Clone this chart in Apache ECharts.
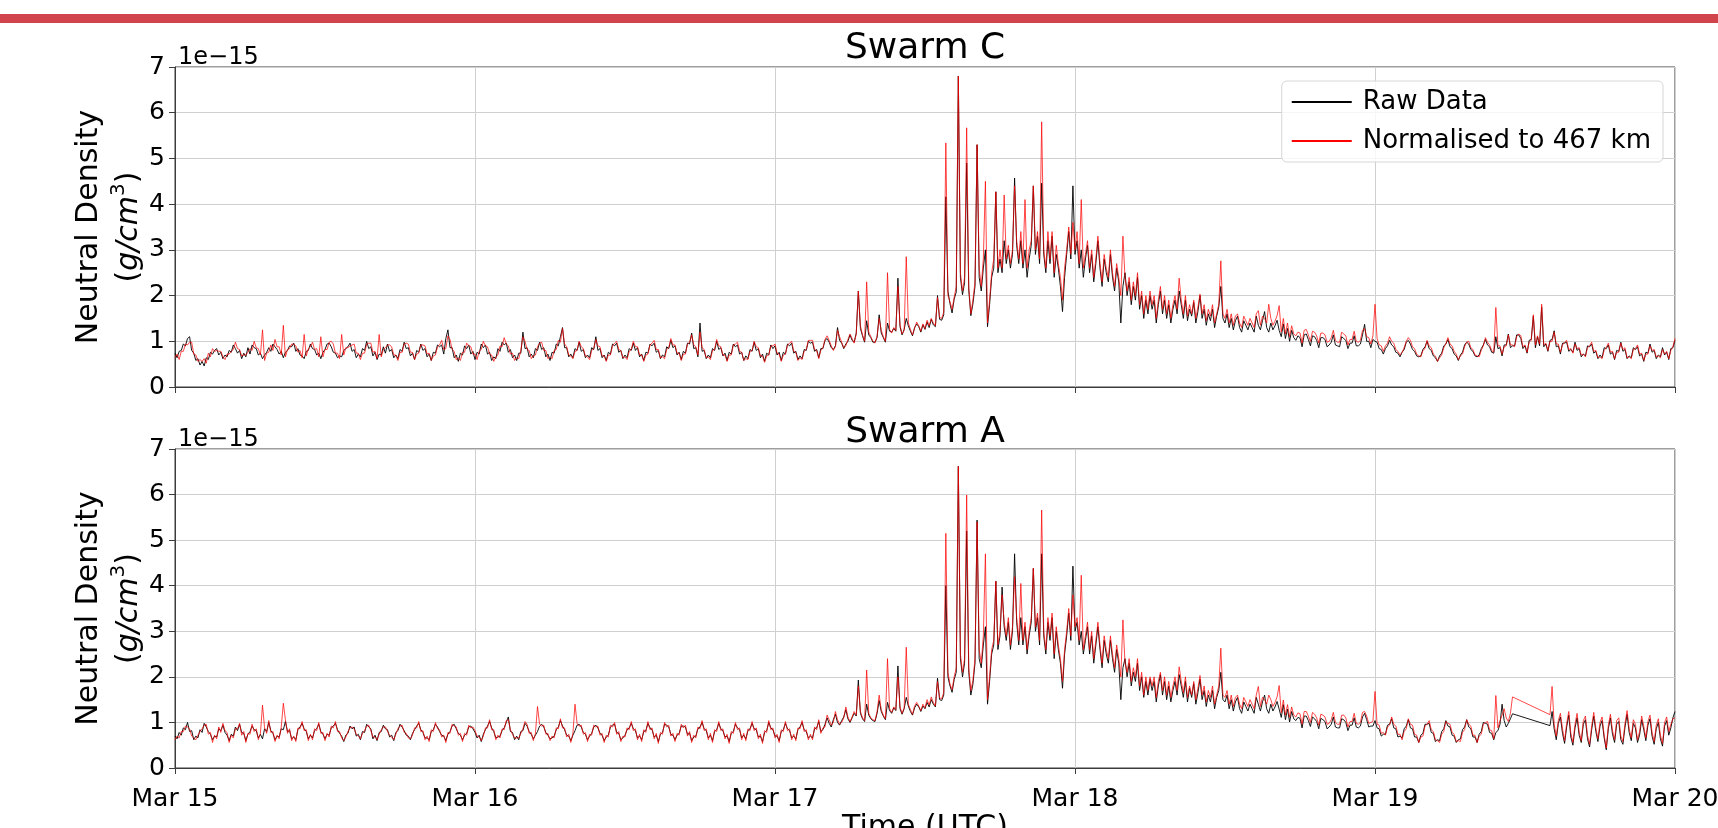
<!DOCTYPE html>
<html><head><meta charset="utf-8">
<script src="https://cdn.jsdelivr.net/npm/echarts@6/dist/echarts.min.js"></script>
<style>html,body{margin:0;padding:0;background:#fff}#chart{width:1718px;height:828px}</style>
</head><body><div id="chart"></div>
<script>
// x tick labels (one per day, 00:00 UTC)
const dayLabels = ['Mar 15','Mar 16','Mar 17','Mar 18','Mar 19','Mar 20'];
// samples every 10 minutes from Mar 15 00:00 UTC; values in units of 1e-15 g/cm^3 (one row = 2 hours)
const stepHours = 1/6;

const swarmC_raw = [
.74,.64,.78,.80,.94,.90,1.06,1.10,.80,.74,.58,.62,
.48,.56,.46,.64,.60,.76,.72,.80,.84,.70,.76,.62,
.70,.66,.80,.76,.92,.84,.74,.80,.62,.74,.66,.86,
.72,.92,.86,.84,.70,.74,.62,.70,.76,.86,.78,.94,
.88,.82,.72,.78,.64,.76,.80,.90,.88,.96,.78,.84,
.70,.68,.62,.78,.80,.94,.84,.82,.70,.74,.62,.76,
.82,.94,.96,.88,.76,.74,.64,.68,.66,.80,.84,.88,
.96,.78,.82,.64,.72,.66,.84,.80,1.00,.84,.88,.68,
.76,.60,.72,.70,.88,.74,.94,.78,.82,.64,.70,.62,
.82,.78,.98,.84,.86,.68,.74,.60,.80,.76,.94,.80,
.84,.66,.72,.58,.76,.74,.92,.88,.92,.72,1.06,1.25,
.86,.86,.64,.70,.56,.74,.70,.90,.84,.92,.72,.78,
.60,.76,.72,.94,.86,.92,.72,.76,.58,.66,.62,.84,
.78,.98,.92,.96,.76,.82,.64,.70,.58,.74,.74,1.20,
.84,.86,.66,.72,.64,.84,.80,.98,.82,.86,.66,.72,
.58,.76,.74,.94,.90,1.10,1.30,.86,.86,.66,.72,.64,
.84,.80,.98,.78,.82,.64,.70,.64,.86,.82,1.10,.80,
.84,.64,.70,.58,.76,.72,.94,.90,.96,.76,.80,.62,
.70,.64,.84,.80,.96,.80,.86,.66,.72,.58,.76,.74,
.94,.90,.96,.76,.80,.62,.70,.66,.88,.84,1.02,.86,
.90,.70,.76,.60,.78,.74,.96,.94,1.18,.84,.86,.66,
1.40,.78,.80,.62,.70,.64,.84,.80,1.00,.82,.86,.68,
.74,.58,.76,.72,.94,.88,.92,.72,.76,.58,.68,.62,
.82,.78,.98,.80,.84,.64,.72,.56,.74,.70,.92,.84,
.90,.70,.76,.58,.76,.72,.94,.90,.96,.74,.78,.60,
.68,.62,.82,.80,1.00,.96,.98,.78,.82,.64,.84,.84,
1.02,1.06,.98,.86,.82,.90,1.30,1.02,.96,.84,.94,1.00,
1.14,1.02,.98,1.18,2.10,1.28,1.12,.98,1.45,1.14,1.08,.98,
.98,1.08,1.58,1.18,1.08,.98,1.40,1.22,1.20,1.28,1.22,2.38,
1.32,1.14,1.26,1.50,1.34,1.22,1.12,1.30,1.38,1.32,1.20,1.36,
1.26,1.42,1.30,1.48,1.36,1.32,2.00,1.48,1.46,1.58,4.16,2.10,
1.82,1.62,1.92,2.08,6.80,2.40,2.02,2.28,4.90,2.12,1.56,1.82,
2.20,5.30,2.40,2.10,2.60,3.00,1.32,1.80,2.40,2.60,4.27,2.50,
2.80,2.50,3.20,2.70,3.00,2.60,2.90,4.57,3.10,2.70,3.20,2.60,
3.00,2.40,2.80,3.10,4.40,2.90,3.30,2.70,4.46,2.90,2.50,3.20,
2.70,3.30,2.40,2.90,2.60,2.20,1.65,2.40,2.90,3.40,2.80,4.40,
2.90,3.20,2.60,3.00,2.40,2.80,3.10,2.50,2.90,2.30,2.70,3.20,
2.60,2.20,2.80,2.50,2.30,2.90,2.40,2.10,2.60,2.30,1.40,2.20,
2.50,2.00,2.30,1.80,2.20,1.90,2.40,1.70,2.00,1.50,1.90,1.60,
2.00,1.70,1.90,1.40,1.80,2.10,1.60,1.90,1.50,1.80,1.40,1.70,
1.90,1.60,2.10,1.80,1.50,1.90,1.45,1.70,1.55,1.85,1.40,1.65,
2.00,1.50,1.70,1.35,1.60,1.45,1.70,1.30,1.55,1.75,2.20,1.50,
1.40,1.60,1.30,1.50,1.25,1.45,1.55,1.30,1.20,1.45,1.35,1.25,
1.40,1.30,1.20,1.55,1.35,1.25,1.45,1.65,1.30,1.20,1.40,1.25,
1.34,1.46,1.24,1.10,1.38,1.06,1.28,1.00,1.24,1.08,1.02,1.12,
1.08,.88,1.14,1.16,1.04,.90,1.12,1.10,1.02,.86,1.08,1.08,
1.04,.88,.92,.98,1.14,.92,.90,.88,1.10,1.06,1.02,.84,
.96,.96,1.12,.90,.90,.94,1.14,1.37,1.00,1.00,.86,1.04,
1.00,.98,.84,.82,.72,.84,.90,1.02,.92,.88,.76,.74,
.66,.76,.82,.98,1.02,.94,.82,.78,.68,.66,.68,.82,
.88,1.00,.84,.80,.68,.64,.56,.68,.74,.90,.94,1.04,
.88,.84,.72,.68,.58,.70,.76,.92,.98,.94,.82,.78,
.68,.66,.70,.84,.92,1.04,.92,.88,.76,.74,1.10,.84,
.86,.68,.92,.92,1.16,.86,.90,.90,1.14,1.14,1.06,.84,
.90,.74,1.02,1.04,1.55,.86,1.10,.90,1.75,.88,.94,.78,
1.02,1.04,1.23,.88,.90,.72,.96,.96,.98,.78,.82,.76,
.98,.80,.84,.66,.72,.68,.90,.88,.94,.74,.78,.62,
.70,.64,.86,.84,.92,.72,.76,.60,.80,.78,.98,.78,
.82,.62,.68,.64,.86,.82,.88,.68,.72,.56,.76,.74,
.94,.76,.80,.62,.70,.66,.86,.70,.76,.60,.84,.86,
1.02];

const swarmC_norm = [
.64,.72,.60,.78,.78,.94,.92,.98,.98,.72,.70,.56,
.60,.56,.62,.52,.74,.66,.84,.78,.80,.78,.78,.66,
.60,.72,.72,.78,.82,.98,.84,.82,.68,.70,.70,.76,
.84,.80,1.00,.86,.84,.70,1.25,.58,.74,.76,.92,.80,
1.04,.88,.88,.70,1.35,.66,.82,.84,.94,.94,.90,.76,
.80,.64,1.15,.68,.84,.88,.98,.82,.84,.66,1.10,.66,
.82,.82,.98,1.00,.94,.74,.74,.62,1.15,.70,.86,.86,
.90,.92,.94,.74,.74,.60,.74,.74,.94,.96,.96,.76,
.78,.62,1.15,.66,.82,.86,.92,.92,.88,.70,.70,.58,
.76,.76,.94,.96,.94,.76,.76,.60,.72,.74,.92,.92,
.90,.72,.74,.58,.68,.70,.88,.92,1.02,.82,.84,1.12,
1.04,.82,.78,.60,.64,.58,.76,.76,.96,.90,.88,.72,
.72,.60,.78,.82,1.00,.90,.88,.72,.70,.56,.66,.70,
.90,.88,1.08,.94,.90,.72,.74,.58,.64,.62,.80,1.10,
1.00,.82,.80,.62,.68,.70,.88,.96,.98,.80,.80,.62,
.66,.62,.80,.82,1.02,.98,1.28,.94,.88,.70,.68,.62,
.78,.80,1.00,.88,.84,.68,.66,.60,.80,.84,1.04,.90,
.88,.68,.68,.56,.70,.70,.90,.96,1.00,.82,.80,.64,
.66,.60,.78,.82,1.00,.88,.88,.70,.70,.56,.70,.72,
.92,.96,1.02,.82,.82,.64,.66,.62,.82,.86,1.06,.92,
.92,.74,.74,.58,.72,.72,.94,.98,1.14,.92,.88,.70,
1.20,.86,.82,.64,.66,.60,.80,.82,1.04,.90,.88,.70,
.70,.56,.70,.70,.92,.94,.98,.78,.76,.58,.62,.60,
.78,.80,1.00,.88,.86,.68,.68,.54,.68,.70,.90,.90,
.94,.74,.72,.56,.70,.72,.92,.96,1.00,.78,.76,.58,
.64,.60,.78,.82,1.02,1.02,1.02,.82,.80,.62,.80,.86,
1.04,1.12,1.02,.90,.80,.88,1.24,1.10,.98,.86,.90,1.04,
1.16,1.06,.96,1.16,2.10,1.34,1.14,1.00,2.30,1.20,1.10,1.00,
.96,1.12,1.50,1.24,1.10,1.00,2.50,1.26,1.18,1.30,1.24,2.20,
1.36,1.16,1.24,2.85,1.40,1.26,1.14,1.28,1.42,1.34,1.22,1.38,
1.28,1.46,1.34,1.50,1.40,1.34,1.96,1.52,1.50,1.64,5.34,2.00,
1.86,1.70,1.96,2.20,6.80,2.50,2.10,2.40,5.67,2.20,1.60,1.90,
2.30,5.30,2.60,2.20,2.80,4.50,1.40,1.90,2.50,2.80,4.27,2.60,
3.00,2.60,4.20,2.80,3.10,2.70,3.00,4.40,3.20,2.80,3.40,2.70,
4.10,2.60,3.00,3.20,4.40,3.00,3.40,2.80,5.80,3.00,2.60,3.40,
2.80,3.40,2.50,3.10,2.70,2.40,1.90,2.60,3.00,3.50,2.90,3.60,
3.00,3.40,2.70,4.10,2.60,2.90,3.20,2.60,3.00,2.40,2.80,3.30,
2.70,2.30,2.90,2.60,2.40,3.00,2.50,2.20,2.70,2.40,2.00,3.30,
2.40,2.10,2.40,1.90,2.30,2.00,2.50,1.80,2.10,1.60,2.00,1.70,
2.10,1.80,2.00,1.50,1.90,2.20,1.70,2.00,1.60,1.90,1.50,1.80,
2.00,1.70,2.38,1.90,1.60,2.00,1.55,1.80,1.60,1.90,1.50,1.75,
2.03,1.60,1.80,1.45,1.70,1.55,1.80,1.40,1.60,1.80,2.76,1.60,
1.50,1.70,1.40,1.60,1.35,1.55,1.60,1.40,1.30,1.55,1.45,1.35,
1.50,1.40,1.30,1.60,1.67,1.35,1.55,1.50,1.40,1.81,1.50,1.35,
1.44,1.56,1.78,1.20,1.50,1.16,1.40,1.10,1.34,1.16,1.12,1.20,
1.18,.96,1.24,1.26,1.14,1.00,1.22,1.20,1.12,.96,1.18,1.18,
1.14,.98,1.00,1.08,1.24,1.02,.98,.98,1.20,1.16,1.12,.92,
1.04,1.04,1.22,1.00,.98,1.02,1.24,1.28,1.10,1.08,.94,1.12,
1.81,1.06,.92,.90,.78,.90,.96,1.10,1.00,.96,.82,.78,
.70,.76,.86,1.00,1.08,1.02,.88,.84,.72,.68,.66,.80,
.84,1.02,.90,.86,.72,.68,.56,.64,.70,.86,.94,1.08,
.94,.90,.78,.72,.60,.68,.72,.88,.98,1.00,.86,.82,
.70,.68,.66,.80,.90,1.08,.98,.92,.80,.76,1.74,.90,
.90,.72,.88,.90,1.14,.92,.92,.88,1.10,1.16,1.12,.88,
.92,.76,.98,1.02,1.58,.92,1.12,.94,1.81,.92,.96,.80,
1.00,1.00,1.20,.94,.94,.76,.92,.98,1.02,.82,.84,.74,
.94,.84,.86,.70,.72,.66,.86,.90,.98,.78,.80,.64,
.66,.62,.80,.86,.96,.76,.78,.62,.76,.76,.96,.82,
.86,.64,.66,.62,.82,.84,.92,.72,.74,.58,.72,.72,
.90,.80,.82,.66,.68,.64,.82,.72,.78,.62,.80,.88,
1.06];

const swarmA_raw = [
.70,.64,.78,.72,.88,.84,1.00,.80,.82,.62,.70,.66,
.84,.78,.98,.90,.80,.74,.62,.70,.68,.86,.82,.94,
.78,.72,.60,.74,.70,.90,.82,.96,.78,.76,.60,.74,
.80,.92,.84,.82,.66,.74,.64,.86,.80,1.00,.82,.76,
.62,.70,.68,.86,.84,1.02,.80,.82,.64,.68,.62,.84,
.90,.98,.86,.80,.64,.72,.66,.82,.86,.96,.80,.74,
.64,.74,.72,.88,.92,.98,.84,.76,.70,.58,.72,.76,
.92,.86,.90,.70,.74,.62,.80,.78,.96,.90,.86,.64,
.72,.60,.78,.80,.94,.86,.84,.68,.72,.60,.78,.82,
.96,.90,.82,.72,.70,.62,.76,.84,.92,.98,.84,.78,
.66,.66,.62,.80,.84,.96,.90,.80,.72,.70,.60,.74,
.80,.92,.96,.86,.76,.72,.62,.72,.76,.90,.92,.86,
.78,.66,.72,.58,.74,.84,.92,1.02,.88,.80,.66,.68,
.70,.82,.88,1.00,1.12,.80,.78,.62,.70,.62,.80,.82,
.98,.92,.80,.74,.64,.72,.80,.92,.96,.90,.78,.72,
.64,.66,.70,.84,.90,1.04,.92,.84,.72,.70,.60,.72,
.82,.94,.96,.90,.78,.74,.62,.70,.76,.90,.94,.88,
.76,.72,.60,.68,.72,.90,.94,.96,.78,.76,.62,.66,
.72,.84,.88,.98,.86,.82,.66,.70,.62,.80,.82,.98,
.88,.84,.68,.72,.58,.74,.78,.96,.94,.90,.74,.72,
.62,.72,.76,.92,.92,.90,.74,.76,.60,.68,.70,.86,
.90,1.00,.86,.82,.66,.72,.60,.80,.84,.98,.86,.82,
.68,.70,.58,.76,.80,.96,.88,.84,.66,.72,.64,.82,
.86,.98,.86,.84,.68,.70,.58,.78,.82,1.00,.88,.84,
.70,.70,.60,.80,.84,.98,.86,.82,.66,.70,.64,.84,
.90,1.00,.84,.80,.66,.70,.66,.86,.88,1.02,.80,.84,
.96,1.10,.98,.90,1.06,1.18,1.00,.94,1.04,1.12,1.28,1.08,
1.00,1.10,1.20,1.14,1.93,1.20,1.08,1.02,1.40,1.16,1.08,1.04,
1.02,1.20,1.48,1.24,1.14,1.06,1.44,1.26,1.20,1.32,1.26,2.24,
1.30,1.18,1.30,1.55,1.36,1.24,1.16,1.32,1.40,1.34,1.24,1.36,
1.30,1.44,1.34,1.50,1.40,1.34,1.97,1.50,1.48,1.60,4.00,2.00,
1.80,1.66,1.94,2.10,6.62,2.40,2.00,2.30,5.20,2.10,1.60,1.84,
2.30,5.44,2.40,2.20,2.70,3.10,1.40,1.90,2.50,2.70,4.10,2.60,
2.90,3.97,3.10,2.80,3.20,2.60,3.00,4.70,3.20,2.70,3.30,2.70,
3.10,2.50,2.90,3.20,4.38,3.00,3.30,2.70,4.70,2.90,2.50,3.20,
2.80,3.30,2.40,3.00,2.60,2.30,1.75,2.50,2.90,3.40,2.80,4.43,
3.00,3.20,2.70,3.00,2.50,2.80,3.10,2.50,2.90,2.30,2.70,3.10,
2.60,2.20,2.80,2.50,2.30,2.80,2.40,2.10,2.60,2.30,1.50,2.20,
2.40,2.00,2.30,1.80,2.10,1.90,2.30,1.70,2.00,1.55,1.90,1.60,
1.95,1.70,1.90,1.45,1.80,2.05,1.60,1.90,1.50,1.80,1.45,1.70,
1.90,1.60,2.05,1.80,1.55,1.90,1.45,1.75,1.55,1.85,1.40,1.65,
1.95,1.50,1.70,1.35,1.60,1.45,1.70,1.30,1.55,1.70,2.10,1.50,
1.45,1.60,1.30,1.50,1.25,1.45,1.55,1.30,1.20,1.45,1.35,1.25,
1.40,1.30,1.20,1.55,1.40,1.25,1.45,1.60,1.30,1.20,1.40,1.25,
1.34,1.46,1.29,1.11,1.39,1.06,1.29,1.01,1.24,1.08,1.04,1.11,
1.09,.88,1.14,1.14,1.04,.91,1.12,1.08,1.02,.86,1.09,1.06,
1.02,.86,.90,.96,1.12,.90,.88,.88,1.08,1.06,1.00,.82,
.94,.94,1.10,.90,.88,.92,1.12,1.20,1.06,.90,.92,.92,
1.04,.88,.86,.70,.74,.74,.94,.96,1.08,.88,.86,.68,
.70,.66,.86,.92,1.06,.88,.86,.68,.68,.56,.72,.76,
.96,.96,.98,.78,.76,.58,.62,.60,.80,.86,1.04,.92,
.90,.72,.70,.56,.62,.64,.84,.90,1.06,.90,.86,.68,
.68,.56,.74,.80,1.00,.98,.96,.78,.76,.62,.78,.82,
.96,1.40,1.04,.90,.98,1.08,1.19,null,null,null,null,null,
null,null,null,null,null,null,null,null,null,null,null,null,
.93,1.24,.86,.62,.98,1.12,.76,.54,.90,1.16,.68,.50,
.88,1.10,.72,.56,.96,1.06,.64,.46,.84,1.14,.80,.58,
.92,1.04,.66,.40,.86,1.10,.74,.56,.96,1.02,.62,.52,
.90,1.18,.78,.60,.98,.88,.56,.72,1.06,.84,.60,.94,
1.08,.70,.52,.86,1.00,.64,.48,.92,1.04,.72,.88,1.10,
1.24];

const swarmA_norm = [
.62,.70,.66,.80,.80,.92,.90,.86,.70,.66,.62,.72,
.80,.86,.94,.96,.74,.78,.56,.72,.64,.90,.78,.98,
.82,.78,.56,.72,.66,.86,.86,.98,.72,.80,.56,.76,
.74,.96,.80,.86,.62,.76,1.38,.88,.76,1.04,.78,.80,
.58,.72,.64,.90,1.42,1.06,.76,.86,.60,.70,.58,.88,
.86,1.02,.82,.84,.60,.74,.62,.86,.82,1.00,.76,.78,
.60,.76,.68,.92,.88,1.02,.80,.80,.66,.60,.68,.80,
.88,.90,.86,.74,.70,.64,.76,.82,.92,.94,.82,.68,
.68,.62,.74,.84,.90,.90,.80,.72,.68,.62,.74,.86,
.92,.94,.78,.76,.66,.64,.72,.88,.88,1.02,.80,.82,
.62,.70,.58,.84,.80,1.00,.86,.84,.68,.72,.56,.78,
.76,.96,.92,.90,.72,.76,.58,.76,.72,.94,.88,.90,
.82,.70,.68,.60,.70,.88,.88,1.06,.84,.84,.62,.72,
.66,.86,.84,1.04,1.06,.84,.74,.66,.66,.66,.76,.86,
1.02,.96,.76,.78,.60,.76,1.35,.96,.92,.94,.74,.76,
.60,.70,.66,.88,.86,1.08,.88,.88,.68,.74,.56,.76,
1.40,.98,.92,.94,.74,.78,.58,.74,.72,.94,.90,.92,
.72,.76,.56,.72,.68,.94,.90,1.00,.74,.80,.58,.70,
.68,.88,.84,1.02,.82,.86,.62,.74,.58,.84,.78,1.02,
.84,.88,.64,.76,.54,.78,.74,1.00,.90,.94,.70,.76,
.58,.76,.72,.96,.88,.94,.70,.80,.56,.72,.66,.90,
.86,1.04,.82,.86,.62,.76,.56,.84,.80,1.02,.82,.86,
.64,.74,.54,.80,.76,1.00,.84,.88,.62,.76,.60,.86,
.82,1.02,.82,.88,.64,.74,.54,.82,.78,1.04,.84,.88,
.66,.74,.56,.84,.80,1.02,.82,.86,.62,.74,.60,.88,
.86,1.04,.80,.84,.62,.74,.62,.90,.84,1.06,.76,.88,
.90,1.16,1.06,.94,1.00,1.24,1.06,.96,1.00,1.10,1.34,1.12,
1.02,1.12,1.24,1.16,1.80,1.24,1.10,1.04,2.15,1.20,1.10,1.06,
1.04,1.24,1.60,1.28,1.16,1.08,2.40,1.30,1.22,1.34,1.28,2.00,
1.34,1.20,1.32,2.65,1.40,1.28,1.18,1.36,1.44,1.36,1.26,1.40,
1.32,1.50,1.38,1.56,1.44,1.36,1.90,1.54,1.52,1.66,5.15,2.10,
1.84,1.72,2.00,2.20,6.62,2.50,2.10,2.40,5.99,2.20,1.70,1.92,
2.40,5.40,2.60,2.30,2.90,4.70,1.50,2.00,2.60,2.80,4.10,2.70,
3.00,3.80,3.20,2.90,3.30,2.70,3.10,4.20,3.30,2.80,4.05,2.80,
3.20,2.60,3.00,3.30,4.38,3.10,3.40,2.80,5.66,3.00,2.60,3.30,
2.90,3.40,2.50,3.10,2.70,2.40,1.90,2.60,3.00,3.50,2.90,3.80,
3.10,3.30,2.80,4.23,2.60,2.90,3.20,2.60,3.00,2.40,2.80,3.20,
2.70,2.30,2.90,2.60,2.40,2.90,2.50,2.20,2.70,2.40,2.00,3.25,
2.30,2.10,2.40,1.90,2.20,2.00,2.40,1.80,2.10,1.60,2.00,1.70,
2.00,1.80,2.00,1.55,1.90,2.10,1.70,2.00,1.60,1.90,1.55,1.80,
2.00,1.70,2.22,1.90,1.65,2.00,1.55,1.80,1.60,1.90,1.50,1.75,
2.03,1.60,1.80,1.45,1.70,1.55,1.80,1.40,1.60,1.80,2.63,1.60,
1.55,1.70,1.40,1.60,1.35,1.55,1.60,1.40,1.30,1.55,1.45,1.35,
1.50,1.40,1.30,1.60,1.79,1.35,1.55,1.50,1.40,1.60,1.50,1.35,
1.44,1.56,1.81,1.21,1.49,1.16,1.39,1.11,1.34,1.16,1.12,1.21,
1.19,.96,1.24,1.24,1.14,1.00,1.22,1.18,1.10,.94,1.18,1.16,
1.12,.96,.98,1.06,1.22,1.00,.96,.96,1.16,1.16,1.10,.90,
1.02,1.02,1.20,.98,.96,1.00,1.22,1.24,1.14,.98,1.00,1.02,
1.68,.96,.94,.76,.78,.72,.90,.94,1.12,.96,.92,.74,
.74,.62,.80,.86,1.08,.96,.94,.74,.72,.56,.68,.70,
.92,.96,1.04,.84,.80,.62,.60,.56,.74,.80,1.02,.98,
.96,.78,.74,.58,.60,.58,.78,.84,1.06,.96,.92,.72,
.72,.56,.70,.74,.96,1.00,1.02,.84,.82,.64,1.59,.88,
1.04,1.16,1.30,1.10,1.02,1.20,1.56,null,null,null,null,null,
null,null,null,null,null,null,null,null,null,null,null,null,
1.17,1.79,.96,.70,1.04,1.20,.86,.60,.98,1.24,.76,.56,
.96,1.20,.80,.60,1.04,1.14,.72,.52,.92,1.22,.88,.64,
1.00,1.12,.72,.44,.94,1.18,.82,.62,1.04,1.10,.70,.58,
.98,1.26,.86,.66,1.06,.96,.62,.80,1.14,.92,.66,1.02,
1.16,.78,.58,.94,1.08,.72,.54,1.00,1.12,.80,.96,1.08,
1.10];

const panelTitles = ['Swarm C', 'Swarm A'];
const seriesNames = ['Raw Data', 'Normalised to 467 km'];

function toPairs(arr) { return arr.map((v, i) => [i * stepHours, v]); }

const FONT = 'DejaVu Sans';
const AX = '#3c3c3c';
const GRIDC = '#cfcfcf';

function xAxisCfg(gi, showLabels) {
  const a = {
    gridIndex: gi, type: 'value', min: 0, max: 120, interval: 24,
    axisLine: { show: true, onZero: false, lineStyle: { color: AX, width: 1 } },
    axisTick: { show: true, inside: false, length: 6, lineStyle: { color: AX, width: 1 } },
    axisLabel: { show: showLabels, fontSize: 25, color: '#000', margin: 19, fontFamily: FONT,
      formatter: v => dayLabels[Math.round(v / 24)] },
    splitLine: { show: true, lineStyle: { color: GRIDC, width: 1 } }
  };
  if (showLabels) {
    a.name = 'Time (UTC)';
    a.nameLocation = 'middle';
    a.nameGap = 45;
    a.nameTextStyle = { fontSize: 30, color: '#000', fontFamily: FONT };
  }
  return a;
}

function yAxisCfg(gi) {
  return {
    gridIndex: gi, type: 'value', min: 0, max: 7, interval: 1,
    axisLine: { show: true, lineStyle: { color: AX, width: 1 } },
    axisTick: { show: true, inside: false, length: 6, lineStyle: { color: AX, width: 1 } },
    axisLabel: { fontSize: 25, color: '#000', margin: 10, fontFamily: FONT },
    splitLine: { show: true, lineStyle: { color: GRIDC, width: 1 } },
    name: '{a|Neutral Density}\n{a|(}{i|g/cm}{s|3}{a|)}',
    nameLocation: 'middle', nameRotate: 90, nameGap: 26, nameMoveOverlap: false,
    nameTextStyle: {
      color: '#000', fontSize: 30, fontFamily: FONT, lineHeight: 40,
      rich: {
        a: { fontSize: 30, fontFamily: FONT, color: '#000', lineHeight: 40 },
        i: { fontSize: 30, fontFamily: FONT, color: '#000', fontStyle: 'italic', lineHeight: 40 },
        s: { fontSize: 20, fontFamily: FONT, color: '#000', verticalAlign: 'top', lineHeight: 20, padding: [0, 0, 12, 0] }
      }
    }
  };
}

function lineSeries(name, xi, arr, color, opacity, z) {
  return {
    name: name, type: 'line', xAxisIndex: xi, yAxisIndex: xi,
    data: toPairs(arr), showSymbol: false, symbol: 'none', connectNulls: true,
    silent: true, z: z, sampling: null,
    lineStyle: { color: color, width: 0.9, opacity: opacity },
    itemStyle: { color: color }
  };
}

const chart = echarts.init(document.getElementById('chart'), null, { renderer: 'canvas' });
chart.setOption({
  animation: false,
  backgroundColor: '#ffffff',
  textStyle: { fontFamily: FONT },
  graphic: [
    { type: 'rect', shape: { x: 0, y: 14, width: 1718, height: 9 }, style: { fill: '#d1444c' }, silent: true },
    { type: 'text', x: 925, y: 49, style: { text: panelTitles[0], fontSize: 36, fontFamily: FONT, fill: '#000', align: 'center', verticalAlign: 'middle' } },
    { type: 'text', x: 925, y: 433, style: { text: panelTitles[1], fontSize: 36, fontFamily: FONT, fill: '#000', align: 'center', verticalAlign: 'middle' } },
    { type: 'text', x: 178, y: 58, style: { text: '1e\u221215', fontSize: 24, fontFamily: FONT, fill: '#000', align: 'left', verticalAlign: 'middle' } },
    { type: 'text', x: 178, y: 440, style: { text: '1e\u221215', fontSize: 24, fontFamily: FONT, fill: '#000', align: 'left', verticalAlign: 'middle' } }
  ],
  legend: {
    data: seriesNames, orient: 'vertical', right: 55, top: 81,
    icon: 'rect', itemWidth: 60, itemHeight: 2, itemGap: 13,
    padding: [8, 12, 8, 10],
    backgroundColor: 'rgba(255,255,255,0.8)', borderColor: '#d6d6d6', borderWidth: 1, borderRadius: 5,
    textStyle: { fontSize: 26, color: '#000', fontFamily: FONT, lineHeight: 25, padding: [0, 0, 0, 6] },
    selectedMode: false
  },
  grid: [
    { left: 175, top: 67, width: 1500, height: 320, show: true, borderColor: AX, borderWidth: 1, backgroundColor: 'transparent', containLabel: false, outerBoundsMode: 'none' },
    { left: 175, top: 449, width: 1500, height: 319, show: true, borderColor: AX, borderWidth: 1, backgroundColor: 'transparent', containLabel: false, outerBoundsMode: 'none' }
  ],
  xAxis: [xAxisCfg(0, false), xAxisCfg(1, true)],
  yAxis: [yAxisCfg(0), yAxisCfg(1)],
  series: [
    lineSeries(seriesNames[0], 0, swarmC_raw, '#000000', 1, 2),
    lineSeries(seriesNames[1], 0, swarmC_norm, '#ff0000', 0.8, 3),
    lineSeries(seriesNames[0], 1, swarmA_raw, '#000000', 1, 2),
    lineSeries(seriesNames[1], 1, swarmA_norm, '#ff0000', 0.8, 3)
  ]
});
</script>
</body></html>
